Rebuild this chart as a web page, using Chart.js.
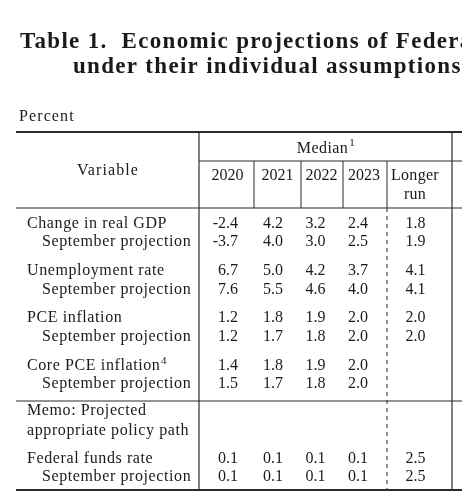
<!DOCTYPE html>
<html>
<head>
<meta charset="utf-8">
<script src="https://cdn.jsdelivr.net/npm/chart.js@4.4.0/dist/chart.umd.min.js"></script>
<style>
  html, body { margin: 0; padding: 0; background: #fff; }
  canvas { display: block; }
</style>
</head>
<body>
<canvas id="table1" width="462" height="500"></canvas>
<script>
// table contents
const titleLines = [
    'Table 1.  Economic projections of Federal Reserve Board members and Federal Reserve Bank presidents,',
    'under their individual assumptions of projected appropriate monetary policy, December 2020'
];
const unitLabel = 'Percent';
const groupLabel = 'Median';
const years = ['2020', '2021', '2022', '2023'];
const longerRun = ['Longer', 'run'];
const variables = ['Change in real GDP', 'Unemployment rate', 'PCE inflation', 'Core PCE inflation', 'Federal funds rate'];
const sepLabel = 'September projection';
const memoLines = ['Memo: Projected', 'appropriate policy path'];

const gdp = [-2.4, 4.2, 3.2, 2.4, 1.8];
const gdpSep = [-3.7, 4.0, 3.0, 2.5, 1.9];
const unemployment = [6.7, 5.0, 4.2, 3.7, 4.1];
const unemploymentSep = [7.6, 5.5, 4.6, 4.0, 4.1];
const pce = [1.2, 1.8, 1.9, 2.0, 2.0];
const pceSep = [1.2, 1.7, 1.8, 2.0, 2.0];
const corePce = [1.4, 1.8, 1.9, 2.0, null];
const corePceSep = [1.5, 1.7, 1.8, 2.0, null];
const fedFunds = [0.1, 0.1, 0.1, 0.1, 2.5];
const fedFundsSep = [0.1, 0.1, 0.1, 0.1, 2.5];

// layout, in scale units (1 unit = 1 px here)
const colEdges = [199, 254, 301, 343, 387, 452];
const valueRight = [238, 283, 325.5, 368, 425.5];
const headCenter = [227.5, 277.5, 321.5, 364, 415];
const labelX = 27, indentX = 42;
const rowBase = [228, 246, 275, 293.5, 322, 340.5, 369.5, 388, 415, 434.5, 462.5, 481];

const bodyRows = [
    { label: variables[0], values: gdp },
    { label: sepLabel, values: gdpSep, indent: true },
    { label: variables[1], values: unemployment },
    { label: sepLabel, values: unemploymentSep, indent: true },
    { label: variables[2], values: pce },
    { label: sepLabel, values: pceSep, indent: true },
    { label: variables[3], values: corePce, note: '4' },
    { label: sepLabel, values: corePceSep, indent: true },
    { label: memoLines[0], values: [] },
    { label: memoLines[1], values: [] },
    { label: variables[4], values: fedFunds },
    { label: sepLabel, values: fedFundsSep, indent: true }
];

const FONT = '"Liberation Serif", serif';
const INK = '#1a1a1a';

// one invisible point per cell, text is drawn at the point
const datasets = bodyRows.map((row, r) => ({
    label: row.label,
    data: row.values.map((v, i) => ({ x: valueRight[i], y: rowBase[r], v: v })),
    pointRadius: 0,
    showLine: false
}));

const tablePlugin = {
    id: 'tableText',
    afterDraw(chart) {
        const ctx = chart.ctx;
        const px = v => chart.scales.x.getPixelForValue(v);
        const py = v => chart.scales.y.getPixelForValue(v);

        function hline(y, x0, x1, w) {
            ctx.beginPath();
            ctx.lineWidth = w;
            ctx.moveTo(px(x0), py(y));
            ctx.lineTo(px(x1), py(y));
            ctx.stroke();
        }
        function vline(x, y0, y1, w, dash) {
            ctx.beginPath();
            ctx.lineWidth = w;
            ctx.setLineDash(dash || []);
            ctx.moveTo(px(x), py(y0));
            ctx.lineTo(px(x), py(y1));
            ctx.stroke();
            ctx.setLineDash([]);
        }
        function text(str, x, y, align, font, spacing) {
            ctx.font = font;
            ctx.textAlign = align;
            ctx.letterSpacing = spacing || '0px';
            ctx.fillText(str, px(x), py(y));
        }

        ctx.save();
        ctx.fillStyle = INK;
        ctx.strokeStyle = '#2b2b2b';
        ctx.textBaseline = 'alphabetic';

        // title
        text(titleLines[0], 20, 47.5, 'left', 'bold 23px ' + FONT, '1.3px');
        text(titleLines[1], 73, 72.5, 'left', 'bold 23px ' + FONT, '1.3px');
        text(unitLabel, 19, 120.5, 'left', '16px ' + FONT, '1.1px');

        // rules
        hline(132, 16, 462, 2);
        hline(161, colEdges[0], 462, 1);
        hline(208, 16, 462, 1.2);
        hline(401, 16, 462, 1.2);
        hline(490, 16, 462, 2);
        vline(colEdges[0], 132, 490, 1.2);
        vline(colEdges[5], 132, 490, 1.2);
        for (let i = 1; i <= 4; i++) vline(colEdges[i], 161, 208, 1);
        vline(colEdges[4], 208, 490, 1, [4, 4]);

        // header
        text('Variable', 108, 175, 'center', '16px ' + FONT, '1.1px');
        ctx.font = '16px ' + FONT;
        ctx.letterSpacing = '0.4px';
        const mw = ctx.measureText(groupLabel).width;
        text(groupLabel, 325.5 - 3, 152.5, 'center', '16px ' + FONT, '0.4px');
        text('1', 325.5 - 3 + mw / 2 + 1, 146, 'left', '11px ' + FONT);
        years.forEach((y, i) => text(y, headCenter[i], 180, 'center', '16px ' + FONT));
        text(longerRun[0], headCenter[4], 180, 'center', '16px ' + FONT, '0.3px');
        text(longerRun[1], headCenter[4], 199, 'center', '16px ' + FONT, '0.3px');

        // body
        bodyRows.forEach((row, r) => {
            const x = row.indent ? indentX : labelX;
            text(row.label, x, rowBase[r], 'left', '16px ' + FONT, '0.6px');
            if (row.note) {
                ctx.font = '16px ' + FONT;
                ctx.letterSpacing = '0.6px';
                const w = ctx.measureText(row.label).width;
                text(row.note, x + w + 0.5, rowBase[r] - 6, 'left', '11px ' + FONT);
            }
            const meta = chart.getDatasetMeta(r);
            meta.data.forEach((pt, i) => {
                const v = row.values[i];
                if (v === null) return;
                ctx.font = '16px ' + FONT;
                ctx.textAlign = 'right';
                ctx.letterSpacing = '0px';
                ctx.fillText(v.toFixed(1), pt.x, pt.y);
            });
        });
        ctx.restore();
    }
};

new Chart(document.getElementById('table1'), {
    type: 'scatter',
    data: { datasets: datasets },
    options: {
        responsive: false,
        animation: false,
        layout: { padding: 0 },
        plugins: {
            legend: { display: false },
            tooltip: { enabled: false }
        },
        scales: {
            x: { type: 'linear', min: 0, max: 462, display: false },
            y: { type: 'linear', min: 0, max: 500, reverse: true, display: false }
        }
    },
    plugins: [tablePlugin]
});
</script>
</body>
</html>
